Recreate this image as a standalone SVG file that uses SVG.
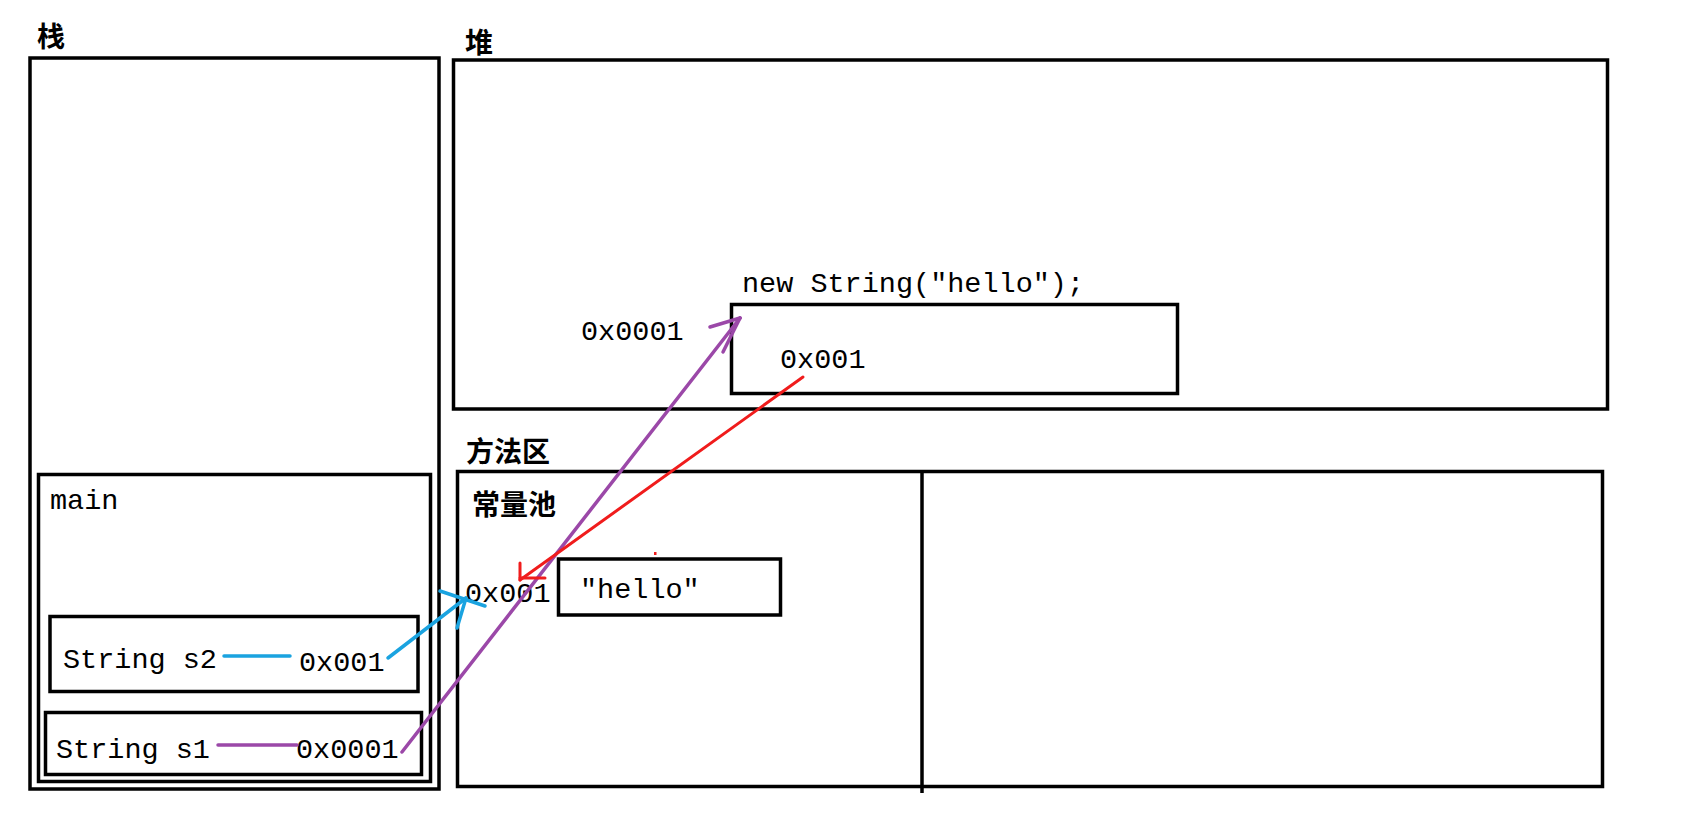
<svg xmlns="http://www.w3.org/2000/svg" width="1707" height="838" viewBox="0 0 1707 838">
<style>
.box{fill:none;stroke:#000;stroke-width:3.5}
.t{font-family:"Liberation Mono","DejaVu Sans Mono",monospace;font-size:28.5px;fill:#000}
.c{font-family:"Noto Sans CJK SC",sans-serif;font-size:28px;fill:#000;font-weight:bold}
.blue{stroke:#1aa3e0;stroke-width:3.5;fill:none;stroke-linecap:round}
.purple{stroke:#9b48a8;stroke-width:3.5;fill:none;stroke-linecap:round}
.red{stroke:#f01c1c;stroke-width:3;fill:none;stroke-linecap:round}
</style>
<rect width="1707" height="838" fill="#fff"/>
<g id="stack">
<text class="c" x="37" y="47">栈</text>
<rect class="box" x="30" y="58" width="409" height="731"/>
</g>
<g id="main">
<rect class="box" x="38.5" y="474.5" width="392" height="307"/>
<text class="t" x="50" y="509">main</text>
</g>
<g id="s2">
<rect class="box" x="50" y="616.5" width="368" height="75"/>
<text class="t" x="63" y="668">String s2</text>
<text class="t" x="299" y="671">0x001</text>
</g>
<g id="s1">
<rect class="box" x="45.5" y="712.5" width="376" height="62"/>
<text class="t" x="56" y="758">String s1</text>
<text class="t" x="296" y="758">0x0001</text>
</g>
<g id="heap">
<text class="c" x="465" y="53">堆</text>
<rect class="box" x="453.5" y="60" width="1154" height="349"/>
<text class="t" x="581" y="340">0x0001</text>
</g>
<g id="newString">
<text class="t" x="742" y="292">new String("hello");</text>
<rect class="box" x="731.5" y="304.5" width="446" height="89"/>
<text class="t" x="780" y="368">0x001</text>
</g>
<g id="methodArea">
<text class="c" x="466" y="462">方法区</text>
<rect class="box" x="457.5" y="471.5" width="1145" height="315"/>
<line x1="922" y1="471" x2="922" y2="793" stroke="#000" stroke-width="3.5"/>
</g>
<g id="constPool">
<text class="c" x="472" y="515">常量池</text>
<text class="t" x="465" y="602">0x001</text>
<rect class="box" x="558.5" y="559" width="222" height="56"/>
<text class="t" x="580" y="598">"hello"</text>
</g>
<g id="connectors">
<line class="blue" x1="224" y1="656" x2="290" y2="656"/>
<line class="blue" x1="388" y1="658" x2="466" y2="598"/>
<line class="blue" x1="440" y1="591" x2="485" y2="606"/>
<line class="blue" x1="466" y1="598" x2="457" y2="628"/>
<line class="purple" x1="218" y1="745" x2="297" y2="745"/>
<line class="purple" x1="402" y1="752" x2="740" y2="318"/>
<line class="purple" x1="740" y1="318" x2="710" y2="327"/>
<line class="purple" x1="740" y1="318" x2="723" y2="352"/>
<line class="red" x1="803" y1="377" x2="520" y2="580"/>
<line class="red" x1="520" y1="580" x2="520" y2="563"/>
<line class="red" x1="520" y1="578" x2="545" y2="578"/>
<rect x="654" y="552" width="2.5" height="3" fill="#f01c1c"/>
</g>
</svg>
